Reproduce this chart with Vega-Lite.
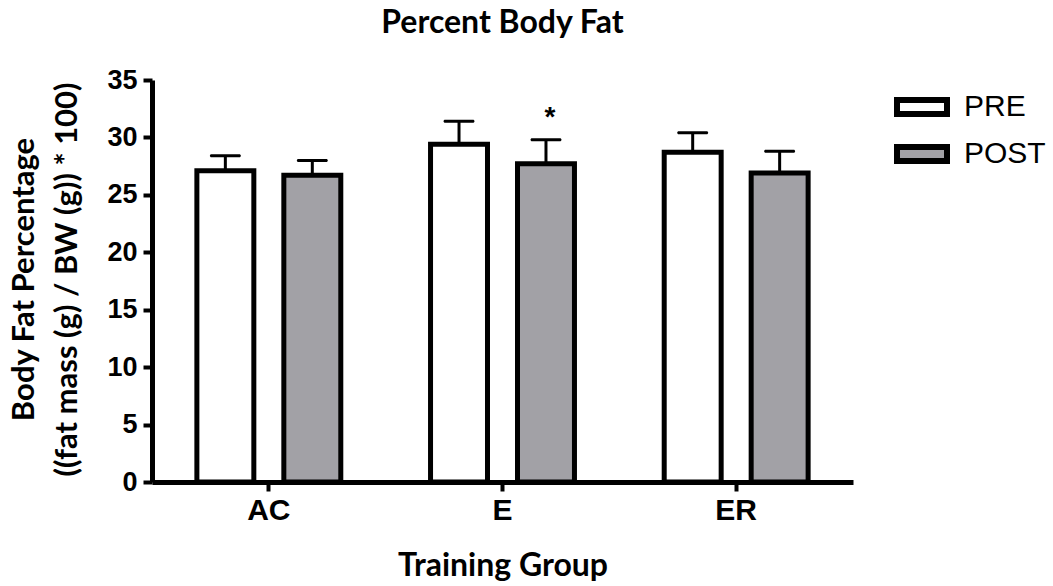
{
  "$schema": "https://vega.github.io/schema/vega-lite/v6.json",
  "autosize": {"type": "none"},
  "padding": {"left": 152, "top": 80, "right": 200, "bottom": 104},
  "width": 701,
  "height": 402,
  "background": "white",
  "view": {"stroke": null},
  "title": {"text": "Percent Body Fat", "font": "Lato", "fontSize": 32, "fontWeight": "bold", "color": "black", "anchor": "middle", "frame": "group", "dx": 0, "offset": 26},
  "data": {"values": [
    {"group": "AC", "time": "PRE", "value": 27.1, "hi": 28.4, "sig": ""},
    {"group": "AC", "time": "POST", "value": 26.7, "hi": 28.0, "sig": ""},
    {"group": "E", "time": "PRE", "value": 29.4, "hi": 31.4, "sig": ""},
    {"group": "E", "time": "POST", "value": 27.7, "hi": 29.8, "sig": "*"},
    {"group": "ER", "time": "PRE", "value": 28.7, "hi": 30.4, "sig": ""},
    {"group": "ER", "time": "POST", "value": 26.9, "hi": 28.8, "sig": ""}
  ]},
  "encoding": {
    "x": {"field": "group", "type": "nominal", "sort": ["AC", "E", "ER"],
      "scale": {"paddingInner": 0, "paddingOuter": 0},
      "axis": {"title": "Training Group", "titleFont": "Lato", "titleFontSize": 32, "titleFontWeight": "bold", "titleColor": "black", "titlePadding": 25,
        "labelAngle": 0, "labelFont": "Liberation Sans", "labelFontSize": 30, "labelFontWeight": "bold", "labelColor": "black", "labelPadding": 4,
        "domainColor": "black", "domainWidth": 5, "tickColor": "black", "tickWidth": 4, "tickSize": 9}},
    "xOffset": {"field": "time", "type": "nominal", "sort": ["PRE", "POST"], "scale": {"paddingInner": 0.345, "paddingOuter": 0.516}}
  },
  "layer": [
    {
      "mark": {"type": "rule", "color": "black", "strokeWidth": 3},
      "encoding": {"y": {"field": "value", "type": "quantitative"}, "y2": {"field": "hi"}}
    },
    {
      "mark": {"type": "tick", "orient": "horizontal", "color": "black", "size": 31, "thickness": 3, "cornerRadius": 1.5, "opacity": 1},
      "encoding": {"y": {"field": "hi", "type": "quantitative"}}
    },
    {
      "mark": {"type": "bar", "stroke": "black", "strokeWidth": 5, "strokeJoin": "miter"},
      "encoding": {
        "y": {"field": "value", "type": "quantitative",
          "scale": {"domain": [0, 35], "nice": false},
          "axis": {"values": [0, 5, 10, 15, 20, 25, 30, 35], "grid": false,
            "title": ["Body Fat Percentage", "((fat mass (g) / BW (g)) * 100)"],
            "titleFont": "Lato", "titleFontSize": 31, "titleFontWeight": "bold", "titleColor": "black",
            "titleAngle": -90, "titleBaseline": "top", "titleX": -143, "titleY": 199, "titleAlign": "center", "titleLineHeight": 43,
            "labelFont": "Liberation Sans", "labelFontSize": 27, "labelFontWeight": "bold", "labelColor": "black", "labelPadding": 6,
            "domainColor": "black", "domainWidth": 5, "tickColor": "black", "tickWidth": 4, "tickSize": 9}},
        "color": {"field": "time", "type": "nominal", "sort": ["PRE", "POST"],
          "scale": {"domain": ["PRE", "POST"], "range": ["white", "#a2a1a6"]},
          "legend": {"title": null, "orient": "none", "legendX": 742, "legendY": -1, "padding": 0,
            "symbolType": "M-1,-0.28H1V0.28H-1Z", "symbolSize": 2500, "symbolStrokeColor": "black", "symbolStrokeWidth": 6, "symbolOpacity": 1,
            "labelFont": "Liberation Sans", "labelFontSize": 30, "labelColor": "black", "labelOffset": 14, "rowPadding": -4}}
      }
    },
    {
      "mark": {"type": "text", "font": "Liberation Sans", "fontSize": 28, "fontWeight": "bold", "color": "black", "baseline": "middle", "dy": -22, "dx": 4},
      "encoding": {"y": {"field": "hi", "type": "quantitative"}, "text": {"field": "sig"}}
    }
  ]
}
